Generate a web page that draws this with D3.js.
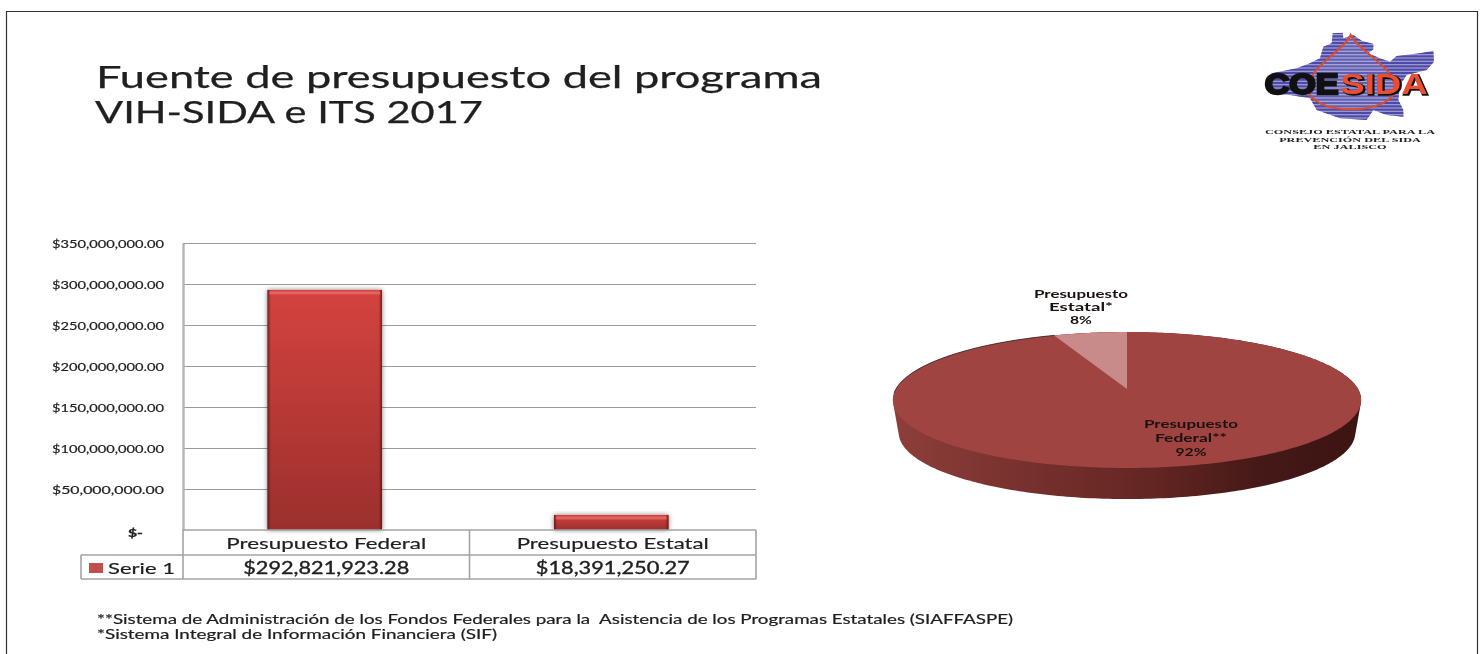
<!DOCTYPE html>
<html lang="es"><head><meta charset="utf-8">
<script src="https://cdnjs.cloudflare.com/ajax/libs/d3/7.8.5/d3.min.js"></script>
<style>
html,body{margin:0;padding:0;background:#fff;overflow:hidden}
svg{display:block;filter:blur(0.5px)}
text{font-family:Lato,"Open Sans",sans-serif;fill:#1f1f1f}
</style></head><body><svg id="c" width="1484" height="654"></svg>
<script>
const titleLines = ["Fuente de presupuesto del programa", "VIH-SIDA e ITS 2017"];
const categories = ["Presupuesto Federal", "Presupuesto Estatal"];
const seriesName = "Serie 1";
const budget = [292821923.28, 18391250.27];
const tickValues = [0, 50e6, 100e6, 150e6, 200e6, 250e6, 300e6, 350e6];
const pieNames = [["Presupuesto", "Federal**"], ["Presupuesto", "Estatal*"]];
const piePercents = [92, 8];
const footnotes = [
  "**Sistema de Administración de los Fondos Federales para la  Asistencia de los Programas Estatales (SIAFFASPE)",
  "*Sistema Integral de Información Financiera (SIF)"
];
const logoLines = ["CONSEJO ESTATAL PARA LA", "PREVENCIÓN DEL SIDA", "EN JALISCO"];

const svg = d3.select("#c");
const defs = svg.append("defs");
const money = d3.format("$,.2f");
const tickFmt = v => v === 0 ? "$-" : money(v);

function stretched(parent, s, x, y, w, size, opts = {}) {
  const t = parent.append("text").attr("x", x).attr("y", y).attr("font-size", size)
    .attr("text-anchor", opts.anchor || "start").attr("font-weight", opts.weight || 400)
    .attr("xml:space", "preserve").style("white-space", "pre").text(s);
  if (w) t.attr("textLength", w).attr("lengthAdjust", "spacingAndGlyphs");
  if (opts.fill) t.style("fill", opts.fill);
  if (opts.family) t.style("font-family", opts.family);
  if (opts.stroke) t.style("stroke", opts.stroke).style("stroke-width", opts.strokeWidth);
  return t;
}

// page frame
svg.append("path").attr("d", "M6.5,654V11.5H1477.5V654").attr("fill", "none").attr("stroke", "#333").attr("stroke-width", 1.2);

// title
stretched(svg, titleLines[0], 96, 88, 726, 30, { stroke: "#1f1f1f", strokeWidth: 0.25 });
stretched(svg, titleLines[1], 95, 123, 388, 30, { stroke: "#1f1f1f", strokeWidth: 0.25 });

// bar chart
const x = d3.scaleBand().domain(categories).range([183, 756]).paddingInner(0.6).paddingOuter(0.3);
const y = d3.scaleLinear().domain([0, 350e6]).range([530, 243]);

const grid = svg.append("g").attr("transform", "translate(183,0)")
  .call(d3.axisLeft(y).tickValues(tickValues.slice(1)).tickSize(-573).tickFormat(""));
grid.select(".domain").remove();
grid.selectAll("line").attr("stroke", "#9a9a9a").attr("stroke-width", 1);

const yAxisLine = svg.append("g").attr("transform", "translate(183,0)")
  .call(d3.axisLeft(y).tickValues(tickValues).tickSize(0).tickPadding(19).tickFormat(tickFmt));
yAxisLine.select(".domain").attr("stroke", "#b4b4b4").attr("stroke-width", 2.4);
yAxisLine.selectAll("text").each(function (d) {
  d3.select(this).attr("font-size", 11).attr("font-family", null).attr("textLength", d === 0 ? 15 : 112)
    .attr("lengthAdjust", "spacingAndGlyphs").attr("font-weight", d === 0 ? 900 : 400)
    .attr("dx", d === 0 ? -21 : 0).attr("dy", d === 0 ? "0.6em" : "0.45em").style("fill", "#222")
    .style("stroke", "#222").style("stroke-width", 0.2);
});

const gBar = defs.append("linearGradient").attr("id", "barV").attr("x1", 0).attr("x2", 0).attr("y1", 0).attr("y2", 1);
gBar.append("stop").attr("offset", 0).attr("stop-color", "#d4433f");
gBar.append("stop").attr("offset", 1).attr("stop-color", "#9b2f2d");
const gEdge = defs.append("linearGradient").attr("id", "barH");
[[0, 0.7, "#4a1210"], [0.03, 0, "#4a1210"], [0.97, 0, "#4a1210"], [1, 0.7, "#4a1210"]].forEach(s =>
  gEdge.append("stop").attr("offset", s[0]).attr("stop-opacity", s[1]).attr("stop-color", s[2]));
const shadow = defs.append("filter").attr("id", "barShadow").attr("x", "-10%").attr("width", "120%").attr("y", "-20%").attr("height", "140%");
shadow.append("feDropShadow").attr("dx", 0).attr("dy", 0).attr("stdDeviation", 2.4).attr("flood-color", "#000").attr("flood-opacity", 0.5);

const bars = svg.append("g").attr("transform", "translate(-1.5,0)").selectAll("g").data(categories).join("g");
bars.append("rect").attr("x", d => x(d)).attr("width", x.bandwidth())
  .attr("y", (d, i) => y(budget[i])).attr("height", (d, i) => y(0) - y(budget[i]))
  .attr("fill", "url(#barV)").attr("filter", "url(#barShadow)");
bars.append("rect").attr("x", d => x(d)).attr("width", x.bandwidth())
  .attr("y", (d, i) => y(budget[i])).attr("height", (d, i) => y(0) - y(budget[i]))
  .attr("fill", "url(#barH)");
bars.append("rect").attr("x", d => x(d) + 2).attr("width", x.bandwidth() - 4)
  .attr("y", (d, i) => y(budget[i]) + 1.5).attr("height", 3).attr("fill", "#e86f6b").attr("opacity", 0.75);

// data table
const rowY = [530, 555, 579];
const colX = [81, 183, 183 + x.step(), 756];
const tbl = svg.append("g").attr("fill", "none").attr("stroke", "#a3a3a3").attr("stroke-width", 1.6);
const segs = [
  [colX[1], rowY[0], colX[3], rowY[0]], [colX[0], rowY[1], colX[3], rowY[1]], [colX[0], rowY[2], colX[3], rowY[2]],
  [colX[0], rowY[1], colX[0], rowY[2]], [colX[1], rowY[0], colX[1], rowY[2]], [colX[2], rowY[0], colX[2], rowY[2]],
  [colX[3], rowY[0], colX[3], rowY[2]]
];
tbl.selectAll("line").data(segs).join("line")
  .attr("x1", d => d[0]).attr("y1", d => d[1]).attr("x2", d => d[2]).attr("y2", d => d[3]);
svg.append("rect").attr("x", 89).attr("y", 563).attr("width", 14).attr("height", 10).attr("fill", "#c0504d");
stretched(svg, seriesName, 108, 574, 67, 16, { stroke: "#1f1f1f", strokeWidth: 0.2 });
const catW = [200, 192], valW = [166, 154];
categories.forEach((c, i) => {
  const cx = x(c) + x.bandwidth() / 2;
  stretched(svg, c, cx, 549, catW[i], 16, { anchor: "middle", stroke: "#1f1f1f", strokeWidth: 0.2 });
  stretched(svg, money(budget[i]), cx, 574, valW[i], 16.5, { anchor: "middle", stroke: "#1f1f1f", strokeWidth: 0.35 });
});

// 3D pie: d3.pie gives the angles, a perspective projection puts them on the page
const pieCx = 1127, pieCy = 389, persp = 0.162, radX = 231, radY = 66.2;
const project = (a, scale = 1, dy = 0) => {
  const u = Math.sin(a), v = Math.cos(a), w = 1 + persp * v;
  return [pieCx + scale * radX * u / w, pieCy + dy - scale * radY * v / w];
};
const arcs = d3.pie().sort(null)(budget);
const sweep = (a0, a1, n = 180) => d3.range(n + 1).map(k => a0 + (a1 - a0) * k / n);
const line = d3.line();

const wallPts = sweep(0, 2 * Math.PI, 360).map(a => project(a)).concat(sweep(0, 2 * Math.PI, 360).map(a => project(a, 0.975, 33)));
const gWall = defs.append("linearGradient").attr("id", "wall").attr("gradientUnits", "userSpaceOnUse")
  .attr("x1", 893).attr("x2", 1361).attr("y1", 0).attr("y2", 0);
[[0, "#8d3e3a"], [0.3, "#76302d"], [0.55, "#642623"], [0.78, "#451917"], [1, "#3c1412"]].forEach(s =>
  gWall.append("stop").attr("offset", s[0]).attr("stop-color", s[1]));
svg.append("path").attr("d", line(d3.polygonHull(wallPts)) + "Z").attr("fill", "url(#wall)");

const sliceFill = ["#9f4441", "#c98b89"];
const smallSweep = arcs[1].endAngle - arcs[1].startAngle;
svg.append("path").attr("d", line(sweep(0, 2 * Math.PI, 360).map(a => project(a))) + "Z").attr("fill", sliceFill[0]);
svg.append("path").attr("d", line(sweep(-smallSweep, 0, 40).map(a => project(a)).concat([[pieCx, pieCy]])) + "Z").attr("fill", sliceFill[1]);
svg.append("path").attr("d", line(sweep(-Math.PI * 0.52, -smallSweep, 120).map(a => project(a)))).attr("fill", "none").attr("stroke", "#3a2a2a").attr("stroke-width", 0.9);

const pieLabelPos = [[1191, [428, 442, 456]], [1081, [298, 311, 324]]];
pieNames.forEach((lines, i) => {
  const [cx, ys] = pieLabelPos[i];
  const widths = i === 0 ? [94, 72, 31] : [94, 64, 22];
  lines.concat(piePercents[i] + "%").forEach((s, k) =>
    stretched(svg, s, cx, ys[k], widths[k], 11.5, { anchor: "middle", weight: 700, fill: "#1c1010" }));
});

// footnotes
stretched(svg, footnotes[0], 97, 624, 916, 12.5, { stroke: "#1f1f1f", strokeWidth: 0.2 });
stretched(svg, footnotes[1], 97, 639, 400, 12.5, { stroke: "#1f1f1f", strokeWidth: 0.2 });

// logo
const logo = svg.append("g").attr("transform", "translate(1240,20) scale(0.33333)");
const outline = [[278,40],[308,38],[310,55],[340,45],[365,62],[400,72],[400,88],[385,100],[420,115],[450,125],[470,108],[540,100],[580,92],[582,125],[560,150],[500,165],[480,195],[475,240],[490,270],[490,290],[440,285],[400,270],[380,300],[300,295],[230,270],[210,235],[150,225],[90,222],[95,160],[170,145],[210,130],[240,115],[250,80],[275,70]];
defs.append("clipPath").attr("id", "map").append("path").attr("d", line(outline) + "Z");
logo.append("path").attr("d", line(outline) + "Z").attr("fill", "#9a97cf");
logo.append("g").attr("clip-path", "url(#map)").selectAll("rect").data(d3.range(36, 304, 10)).join("rect")
  .attr("x", 80).attr("width", 510).attr("y", d => d).attr("height", 6).attr("fill", "#4c49a8");
logo.append("path").attr("d", "M332,45C310,95 205,140 205,205C205,245 265,268 332,268C400,268 465,245 465,205C465,140 355,95 332,45Z")
  .attr("fill", "#fff").attr("fill-opacity", 0.12).attr("stroke", "#e04a2a").attr("stroke-width", 6);
const fam = "'Liberation Sans',sans-serif";
stretched(logo, "COE", 74, 222, 222, 88, { weight: 700, fill: "#111", family: fam, stroke: "#111", strokeWidth: 7 });
stretched(logo, "SIDA", 305, 225, 262, 88, { weight: 700, fill: "#111", family: fam, stroke: "#111", strokeWidth: 4 });
stretched(logo, "SIDA", 301, 222, 262, 88, { weight: 700, fill: "#ee4d2f", family: fam });
const lw = [510, 425, 220], ly = [342, 365, 388];
logoLines.forEach((s, i) => stretched(logo, s, 330, ly[i], lw[i], 20, { anchor: "middle", weight: 700, fill: "#222", family: "'Liberation Serif',serif" }));
</script></body></html>
